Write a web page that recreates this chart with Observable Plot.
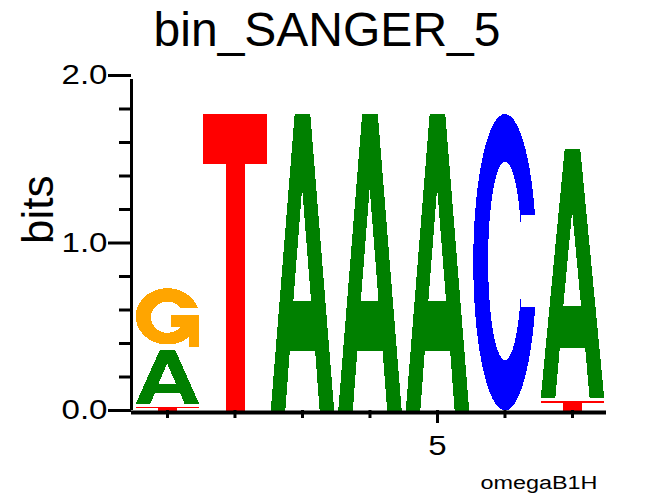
<!DOCTYPE html>
<html><head><meta charset="utf-8">
<script src="https://cdn.jsdelivr.net/npm/d3@7"></script>
<script src="https://cdn.jsdelivr.net/npm/@observablehq/plot@0.6"></script>
<style>body{margin:0;background:#fff;}</style>
</head><body>
<div id="chart"></div>
<script>
// ---- data ----
const title = "bin_SANGER_5";
const caption = "omegaB1H";
const yLabel = "bits";
const positions = [1, 2, 3, 4, 5, 6, 7];
// stacks, bottom to top within each position
const letterPos = [1, 1, 1, 2, 3, 4, 5, 6, 7, 7];
const letters   = ["T", "A", "G", "T", "A", "A", "A", "C", "T", "A"];
const bits      = [0.02, 0.34, 0.37, 1.77, 1.77, 1.77, 1.77, 1.77, 0.055, 1.505];
const yMajorTicks = [0, 1, 2];
const yMinorTicks = [0.2, 0.4, 0.6, 0.8, 1.2, 1.4, 1.6, 1.8];
const xMajorTicks = [5];
const xMinorTicks = [1, 2, 3, 4, 6, 7];
const letterNames  = ["A", "C", "G", "T"];
const letterColors = ["#008000", "#0000ff", "#ffa500", "#ff0000"];

// ---- glyph outlines in a unit box (u right, v up) ----
function arc(cx, cy, rx, ry, a0, a1, n = 64) {
  const pts = [];
  for (let i = 0; i <= n; i++) {
    const a = (a0 + (a1 - a0) * i / n) * Math.PI / 180;
    pts.push([cx + rx * Math.cos(a), cy + ry * Math.sin(a)]);
  }
  return pts;
}
const glyphs = {
  T: [[[0,1],[1,1],[1,0.83],[0.655,0.83],[0.655,0],[0.355,0],[0.355,0.83],[0,0.83]]],
  A: [[[0,0],[0.377,1],[0.623,1],[1,0],[0.77,0],[0.70,0.2],[0.30,0.2],[0.23,0]]],
  C: [[
    ...arc(0.5, 0.5, 0.5, 0.5, 18.66, 342.54),
    [0.755, 0.35],
    ...arc(0.5, 0.505, 0.266, 0.335, 343.5, 16.5),
    [0.755, 0.66]
  ]],
  G: [[
    ...arc(0.5, 0.52, 0.5, 0.48, 18.2, 313),
    [0.84, 0], [1, 0], [1, 0.54], [0.56, 0.54], [0.56, 0.33],
    ...arc(0.5, 0.505, 0.26, 0.265, 318.7, 38.7)
  ]]
};
const holes = { A: [[[0.356,0.37],[0.635,0.37],[0.495,0.75]]] };

const gap = 0.02, glyphWidth = 0.94;
const glyphPoints = [], holePoints = [];
const stackTop = {};
let gid = 0;
letters.forEach((L, i) => {
  const p = letterPos[i];
  const y0 = stackTop[p] ?? 0;
  const y1 = y0 + bits[i];
  stackTop[p] = y1;
  const yb = y0 > 0 ? y0 + gap : y0;
  const place = (poly, target) => {
    const id = gid++;
    for (const [u, v] of poly) target.push({x: p - glyphWidth / 2 + u * glyphWidth, y: yb + v * (y1 - yb), id, letter: L});
  };
  glyphs[L].forEach(poly => place(poly, glyphPoints));
  (holes[L] || []).forEach(poly => place(poly, holePoints));
});

const xDomain = [0.467, 7.504];
const font = "'Liberation Sans', Arial, Helvetica, sans-serif";

const chart = Plot.plot({
  width: 654, height: 496,
  marginLeft: 131, marginRight: 48, marginTop: 75, marginBottom: 86,
  x: {domain: xDomain},
  y: {domain: [0, 2]},
  color: {domain: letterNames, range: letterColors},
  style: {fontFamily: font, background: "white", color: "black", overflow: "visible"},
  marks: [
    Plot.line(glyphPoints, {x: "x", y: "y", z: "id", fill: "letter", stroke: null, curve: "linear-closed", shapeRendering: "crispEdges"}),
    Plot.line(holePoints, {x: "x", y: "y", z: "id", fill: "white", stroke: null, curve: "linear-closed", shapeRendering: "crispEdges"}),
    Plot.ruleX([xDomain[0]], {y1: 0, y2: 2, strokeWidth: 3, insetBottom: -4}),
    Plot.ruleY([0], {x1: xDomain[0], x2: xDomain[1], strokeWidth: 4, dy: 2}),
    Plot.axisY(yMajorTicks, {tickSize: 23, tickPadding: 1, strokeWidth: 3, fontSize: 28, tickFormat: d3.format(".1f"), label: null}),
    Plot.axisY(yMinorTicks, {tickSize: 12, strokeWidth: 3, tickFormat: () => "", label: null}),
    Plot.axisX(xMinorTicks, {tickSize: 8, strokeWidth: 3, tickFormat: () => "", label: null}),
    Plot.axisX(xMajorTicks, {tickSize: 13, tickPadding: 12, strokeWidth: 3, fontSize: 28, label: null}),
    Plot.text([title], {text: d => d, frameAnchor: "top", dx: -42, dy: -30, fontSize: 48, lineAnchor: "bottom"}),
    Plot.text([yLabel], {text: d => d, frameAnchor: "left", rotate: -90, dx: -79, dy: 1, fontSize: 44, lineAnchor: "bottom"}),
    Plot.text([caption], {text: d => d, frameAnchor: "bottom-right", textAnchor: "end", lineAnchor: "bottom", dx: -9, dy: 78, fontSize: 18})
  ]
});
document.getElementById("chart").append(chart);

// horizontally stretched labels, as in the reference rendering
const stretch = {"0.0": 1.18, "1.0": 1.18, "2.0": 1.18, "5": 1.18, "omegaB1H": 1.3};
d3.select(chart).selectAll("text").each(function () {
  const f = stretch[this.textContent];
  if (f) {
    const w = this.getComputedTextLength();
    this.setAttribute("textLength", w * f);
    this.setAttribute("lengthAdjust", "spacingAndGlyphs");
  }
});
</script>
</body></html>
